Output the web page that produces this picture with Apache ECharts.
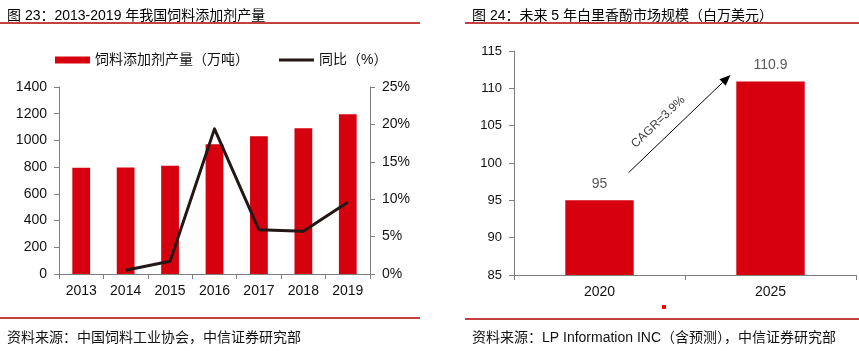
<!DOCTYPE html>
<html>
<head>
<meta charset="utf-8">
<script src="https://cdn.jsdelivr.net/npm/echarts@6/dist/echarts.min.js"></script>
<style>
html,body{margin:0;padding:0;background:#fff;}
#c{width:859px;height:351px;}
</style>
</head>
<body>
<div id="c"></div>
<script>
// ---- data ----
var years1 = ['2013','2014','2015','2016','2017','2018','2019'];
var outputWanTon = [795, 798, 811, 971, 1031, 1091, 1196];
var yoyPct = [null, 0.5, 1.7, 19.4, 5.9, 5.7, 9.6];
var years2 = ['2020','2025'];
var marketSize = [95, 110.9];
var cagrText = 'CAGR=3.9%';
var title1 = '图 23：2013-2019 年我国饲料添加剂产量';
var title2 = '图 24：未来 5 年白里香酚市场规模（白万美元）';
var source1 = '资料来源：中国饲料工业协会，中信证券研究部';
var source2 = '资料来源：LP Information INC（含预测），中信证券研究部';
var legendNames = ['饲料添加剂产量（万吨）', '同比（%）'];

var FONT = "'Liberation Sans','Noto Sans CJK SC',sans-serif";
var RED = '#d7000f';
var AXIS = '#7f7f7f';
var LBL = '#111';

var chart = echarts.init(document.getElementById('c'), null, {renderer:'canvas'});

function catAxis(grid, data){
  return {
    type:'category', gridIndex:grid, data:data,
    axisLine:{lineStyle:{color:AXIS, width:1}},
    axisTick:{show:true, length:5, lineStyle:{color:AXIS}},
    axisLabel:{color:LBL, fontSize:14, fontFamily:FONT, margin:10}
  };
}
function plain(v){ return String(v); }

var option = {
  animation:false,
  textStyle:{fontFamily:FONT},
  title:[
    {text:title1, left:2, top:4, textStyle:{fontSize:14, fontWeight:'normal', color:'#000', fontFamily:FONT}},
    {text:title2, left:467, top:4, textStyle:{fontSize:14, fontWeight:'normal', color:'#000', fontFamily:FONT}},
    {text:source1, left:2, top:326, textStyle:{fontSize:14, fontWeight:'normal', color:'#111', fontFamily:FONT}},
    {text:source2, left:467, top:326, textStyle:{fontSize:14, fontWeight:'normal', color:'#111', fontFamily:FONT}}
  ],
  legend:{
    left:50, top:48, itemWidth:35, itemHeight:7, itemGap:30,
    textStyle:{fontSize:14, color:LBL, fontFamily:FONT},
    data:[
      {name:legendNames[0], icon:'rect'},
      {name:legendNames[1], icon:'path://M0,0L37,0L37,3L0,3Z'}
    ]
  },
  grid:[
    {left:59, top:87, width:311, height:187},
    {left:514, top:51, right:3, height:224}
  ],
  xAxis:[catAxis(0, years1), catAxis(1, years2)],
  yAxis:[
    {type:'value', gridIndex:0, min:0, max:1400, interval:200,
     axisLine:{show:true, lineStyle:{color:AXIS}},
     axisTick:{show:true, length:5, lineStyle:{color:AXIS}},
     splitLine:{show:false},
     axisLabel:{color:LBL, fontSize:14, fontFamily:FONT, margin:12, formatter:plain}},
    {type:'value', gridIndex:0, position:'right', min:0, max:25, interval:5,
     axisLine:{show:true, lineStyle:{color:AXIS}},
     axisTick:{show:true, length:5, lineStyle:{color:AXIS}},
     splitLine:{show:false},
     axisLabel:{color:LBL, fontSize:14, fontFamily:FONT, margin:12, formatter:'{value}%'}},
    {type:'value', gridIndex:1, min:85, max:115, interval:5,
     axisLine:{show:true, lineStyle:{color:AXIS}},
     axisTick:{show:true, length:5, lineStyle:{color:AXIS}},
     splitLine:{show:false},
     axisLabel:{color:LBL, fontSize:13, fontFamily:FONT, margin:12, formatter:plain}}
  ],
  series:[
    {name:legendNames[0], type:'bar', xAxisIndex:0, yAxisIndex:0, data:outputWanTon,
     barWidth:'40%', itemStyle:{color:RED}},
    {name:legendNames[1], type:'line', xAxisIndex:0, yAxisIndex:1, data:yoyPct,
     showSymbol:false, symbol:'none', connectNulls:false,
     lineStyle:{color:'#231815', width:3, join:'round'}, itemStyle:{color:'#231815'}},
    {name:'market', type:'bar', xAxisIndex:1, yAxisIndex:2, data:marketSize,
     barWidth:'40%', itemStyle:{color:RED},
     label:{show:true, position:'top', distance:9, color:'#595959', fontSize:14, fontFamily:FONT}}
  ],
  graphic:[
    {type:'line', shape:{x1:0, y1:23, x2:420, y2:23}, style:{stroke:'#b40000', lineWidth:1.5}},
    {type:'line', shape:{x1:465, y1:23, x2:859, y2:23}, style:{stroke:'#b40000', lineWidth:1.5}},
    {type:'line', shape:{x1:0, y1:318, x2:420, y2:318}, style:{stroke:'#b40000', lineWidth:1.5}},
    {type:'line', shape:{x1:465, y1:319, x2:859, y2:319}, style:{stroke:'#b40000', lineWidth:1.5}},
    {type:'rect', shape:{x:662, y:305, width:4, height:4}, style:{fill:'#ff0000'}}
  ]
};
chart.setOption(option);

// CAGR arrow, positioned from the axis scales
var pA = chart.convertToPixel({xAxisIndex:1, yAxisIndex:2}, [0, 98.7]);
var pB = chart.convertToPixel({xAxisIndex:1, yAxisIndex:2}, [1, 111.8]);
var x1 = pA[0] + 29, y1 = pA[1];
var x2 = pB[0] - 40, y2 = pB[1];
var ang = Math.atan2(y2 - y1, x2 - x1);
var hl = 11, hw = 4.5;
var bx = x2 - hl*Math.cos(ang), by = y2 - hl*Math.sin(ang);
var px = -Math.sin(ang), py = Math.cos(ang);
var mx = x1 + (x2-x1)*0.40, my = y1 + (y2-y1)*0.40;
var g = option.graphic.concat([
  {type:'line', shape:{x1:x1, y1:y1, x2:bx, y2:by}, style:{stroke:'#000', lineWidth:1}},
  {type:'polygon', shape:{points:[[x2,y2],[bx+px*hw,by+py*hw],[bx-px*hw,by-py*hw]]}, style:{fill:'#000'}},
  {type:'text', x:mx + Math.sin(ang)*16, y:my - Math.cos(ang)*16, rotation:-ang,
   style:{text:cagrText, fontSize:12, fontFamily:FONT, fill:'#404040', align:'center', verticalAlign:'middle'}}
]);
chart.setOption({graphic:g}, {replaceMerge:['graphic']});
</script>
</body>
</html>
